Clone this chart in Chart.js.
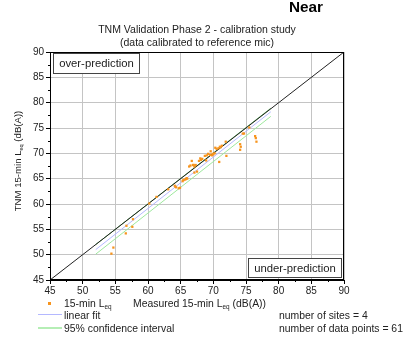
<!DOCTYPE html>
<html>
<head>
<meta charset="utf-8">
<script src="https://cdn.jsdelivr.net/npm/chart.js@4.4.1/dist/chart.umd.min.js"></script>
<style>
  html, body { margin: 0; padding: 0; background: #fff; }
  #wrap { width: 412px; height: 346px; position: relative; }
</style>
</head>
<body>
<div id="wrap"><canvas id="chart" width="412" height="346"></canvas></div>
<script>
// Measured vs TNM-predicted 15-min Leq
const measured = [54.4, 54.7, 56.6, 56.7, 57.7, 57.6, 60.2, 61.3, 63.1, 64.1,
  64.3, 64.7, 64.2, 65.4, 65.8, 66.0, 65.3, 65.6, 66.3, 66.7,
  67.0, 67.3, 67.1, 66.5, 67.1, 67.5, 67.8, 68.0, 68.1, 68.7,
  69.2, 69.5, 69.6, 69.9, 70.3, 70.5, 69.8, 70.0, 70.9, 71.1,
  70.8, 71.0, 71.9, 72.0, 74.1, 74.2, 74.1, 74.5, 74.7, 75.5,
  76.4, 76.5, 76.6, 68.3, 69.0, 66.9, 65.9, 64.9, 68.9, 70.2, 71.3];
const predicted = [50.2, 51.4, 54.2, 55.7, 57.0, 55.5, 60.1, 61.4, 62.9, 63.6,
  63.3, 63.1, 63.4, 64.7, 64.9, 65.0, 64.5, 64.8, 67.4, 68.5,
  67.7, 67.7, 67.4, 67.6, 66.2, 66.4, 68.5, 69.0, 68.7, 69.5,
  69.9, 69.7, 70.4, 69.9, 71.1, 70.9, 69.6, 69.8, 68.3, 71.2,
  71.0, 71.3, 72.3, 69.5, 71.8, 71.3, 70.7, 73.9, 73.9, 75.1,
  73.4, 73.0, 72.3, 68.9, 69.6, 67.7, 65.1, 63.2, 68.6, 70.0, 71.5];

const fitX = [52.0, 78.8];
const fitY = [51.0, 78.2];
const ciUpperY = [52.0, 78.9];
const ciLowerY = [50.1, 77.3];
const identityX = [45, 90];

const axisMin = 45;
const axisMax = 90;
const axisStep = 5;
const minorStep = 2.5;

const nSites = 4;
const nPoints = 61;

function pairs(xs, ys) {
    return xs.map((x, i) => ({ x: x, y: ys[i] }));
}

const FONT = 'Arial, "Liberation Sans", sans-serif';

// draw text with a subscript part: parts = [[text, isSub], ...]
function drawRich(ctx, parts, x, y, size) {
    let cx = x;
    parts.forEach(p => {
        if (p[1]) {
            ctx.font = (size - 4) + 'px ' + FONT;
            ctx.fillText(p[0], cx, y + 3);
        } else {
            ctx.font = size + 'px ' + FONT;
            ctx.fillText(p[0], cx, y);
        }
        cx += ctx.measureText(p[0]).width;
    });
    ctx.font = size + 'px ' + FONT;
    return cx - x;
}

function richWidth(ctx, parts, size) {
    let w = 0;
    parts.forEach(p => {
        ctx.font = (p[1] ? size - 4 : size) + 'px ' + FONT;
        w += ctx.measureText(p[0]).width;
    });
    return w;
}

const decorPlugin = {
    id: 'decor',
    afterDatasetsDraw(chart) {
        const ctx = chart.ctx;
        const a = chart.chartArea;
        const xs = chart.scales.x;
        const ys = chart.scales.y;
        ctx.save();

        // frame
        ctx.strokeStyle = '#000';
        ctx.lineWidth = 1;
        ctx.strokeRect(a.left + 0.5, a.top + 0.5, a.right - a.left - 1, a.bottom - a.top - 1);

        // minor ticks
        ctx.beginPath();
        for (let v = axisMin + minorStep; v < axisMax; v += axisStep) {
            const px = Math.round(xs.getPixelForValue(v)) + 0.5;
            ctx.moveTo(px, a.bottom);
            ctx.lineTo(px, a.bottom + 2);
            const py = Math.round(ys.getPixelForValue(v)) + 0.5;
            ctx.moveTo(a.left, py);
            ctx.lineTo(a.left - 2, py);
        }
        ctx.stroke();

        // annotation boxes
        ctx.textBaseline = 'middle';
        ctx.font = '11.3px ' + FONT;
        ctx.strokeStyle = '#444';
        ctx.fillStyle = '#fff';
        ctx.fillRect(a.left + 3, a.top + 1, 87, 21);
        ctx.strokeRect(a.left + 3.5, a.top + 1.5, 86, 20);
        ctx.fillRect(a.right - 96, a.bottom - 22, 94, 20);
        ctx.strokeRect(a.right - 95.5, a.bottom - 21.5, 93, 19);
        ctx.fillStyle = '#222';
        ctx.textAlign = 'center';
        ctx.fillText('over-prediction', a.left + 46.5, a.top + 12);
        ctx.fillText('under-prediction', a.right - 49, a.bottom - 11.5);

        // titles
        ctx.font = 'bold 15.3px ' + FONT;
        ctx.fillStyle = '#000';
        ctx.textAlign = 'left';
        ctx.fillText('Near', 289, 8);
        ctx.font = '10.5px ' + FONT;
        ctx.fillStyle = '#222';
        ctx.textAlign = 'center';
        ctx.fillText('TNM Validation Phase 2 - calibration study', 197, 30);
        ctx.fillText('(data calibrated to reference mic)', 197, 43);

        // axis titles
        ctx.textAlign = 'left';
        const xTitle = [['Measured 15-min L', false], ['eq', true], [' (dB(A))', false]];
        drawRich(ctx, xTitle, 133, 304, 10.4);

        const yTitle = [['TNM 15-min L', false], ['eq', true], [' (dB(A))', false]];
        ctx.save();
        ctx.translate(18, 161);
        ctx.rotate(-Math.PI / 2);
        const yw = richWidth(ctx, yTitle, 9.6);
        drawRich(ctx, yTitle, -yw / 2, 0, 9.6);
        ctx.restore();

        // legend
        ctx.fillStyle = '#f7941d';
        ctx.fillRect(48, 302, 3, 3);
        ctx.fillStyle = '#222';
        drawRich(ctx, [['15-min L', false], ['eq', true]], 64, 304, 10.4);
        ctx.strokeStyle = '#b4b8ff';
        ctx.beginPath();
        ctx.moveTo(38, 314.5);
        ctx.lineTo(62, 314.5);
        ctx.stroke();
        ctx.font = '10.4px ' + FONT;
        ctx.fillText('linear fit', 64, 316);
        ctx.strokeStyle = '#9de89d';
        ctx.lineWidth = 1.5;
        ctx.beginPath();
        ctx.moveTo(38, 328);
        ctx.lineTo(62, 328);
        ctx.stroke();
        ctx.fillText('95% confidence interval', 64, 329);

        ctx.fillText('number of sites = ' + nSites, 279, 316);
        ctx.fillText('number of data points = ' + nPoints, 279, 329);

        ctx.restore();
    }
};

const ctx = document.getElementById('chart').getContext('2d');
new Chart(ctx, {
    type: 'scatter',
    data: {
        datasets: [{
            label: '15-min Leq',
            data: pairs(measured, predicted),
            backgroundColor: '#f7941d',
            borderColor: '#f7941d',
            pointStyle: 'rect',
            pointRadius: 1.6,
            borderWidth: 0,
            order: 0
        }, {
            label: 'linear fit',
            data: pairs(fitX, fitY),
            showLine: true,
            borderColor: '#b4b8ff',
            borderWidth: 1,
            pointRadius: 0,
            order: 3
        }, {
            label: '95% upper',
            data: pairs(fitX, ciUpperY),
            showLine: true,
            borderColor: '#5fb35f',
            borderWidth: 1,
            pointRadius: 0,
            order: 2
        }, {
            label: '95% lower',
            data: pairs(fitX, ciLowerY),
            showLine: true,
            borderColor: '#9de89d',
            borderWidth: 1,
            pointRadius: 0,
            order: 3
        }, {
            label: '1:1',
            data: pairs(identityX, identityX),
            showLine: true,
            borderColor: '#222',
            borderWidth: 1,
            pointRadius: 0,
            order: 1
        }]
    },
    options: {
        responsive: false,
        animation: false,
        events: [],
        layout: { padding: { top: 52, right: 68, left: 0, bottom: 0 } },
        plugins: {
            legend: { display: false },
            tooltip: { enabled: false }
        },
        scales: {
            x: {
                type: 'linear',
                min: axisMin,
                max: axisMax,
                afterFit: function(scale) { scale.height = 66; },
                ticks: {
                    stepSize: axisStep,
                    color: '#222',
                    padding: 1,
                    maxRotation: 0,
                    font: { family: FONT, size: 10 }
                },
                grid: { color: '#c4c4c4', tickColor: '#000', tickLength: 4 },
                border: { color: '#000' }
            },
            y: {
                type: 'linear',
                min: axisMin,
                max: axisMax,
                afterFit: function(scale) { scale.width = 50; },
                ticks: {
                    stepSize: axisStep,
                    color: '#222',
                    padding: 2,
                    font: { family: FONT, size: 10 }
                },
                grid: { color: '#c4c4c4', tickColor: '#000', tickLength: 4 },
                border: { color: '#000' }
            }
        }
    },
    plugins: [decorPlugin]
});
</script>
</body>
</html>
